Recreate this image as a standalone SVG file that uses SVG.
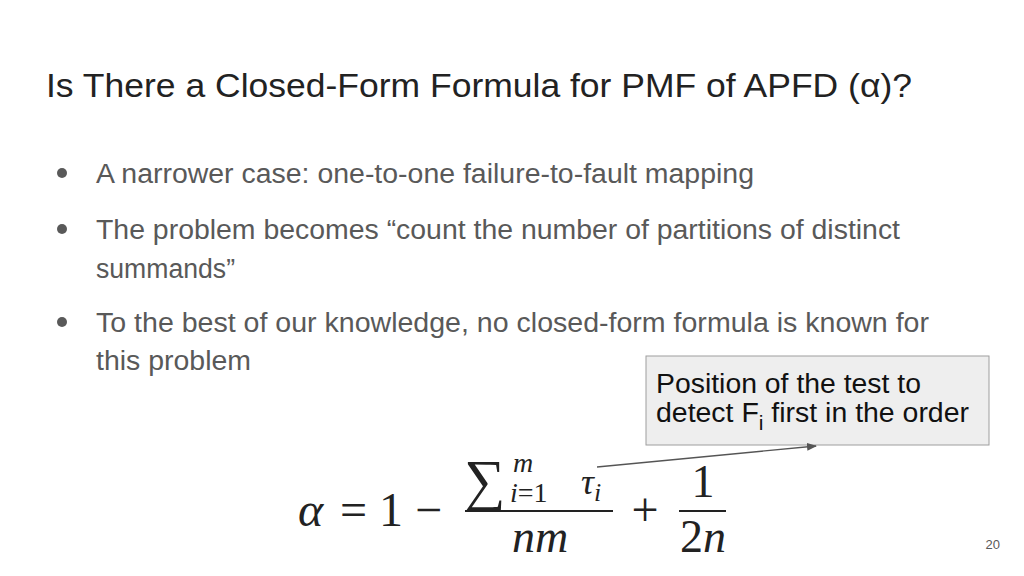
<svg xmlns="http://www.w3.org/2000/svg" width="1024" height="576" viewBox="0 0 1024 576">
<style>
.t{font-family:"Liberation Sans",Arial,sans-serif;fill:#595959;font-size:27px}
.m{font-family:"Liberation Serif","DejaVu Serif",serif;fill:#222}
.i{font-style:italic}
</style>
<defs><marker id="a" markerWidth="10" markerHeight="8" refX="9" refY="4" orient="auto" markerUnits="userSpaceOnUse"><path d="M0,0L10,4L0,8z" fill="#555"/></marker></defs>
<rect width="1024" height="576" fill="#fff"/>
<text x="46" y="97" textLength="866" lengthAdjust="spacingAndGlyphs" style="font-family:'Liberation Sans',Arial,sans-serif;font-size:33px;fill:#222">Is There a Closed-Form Formula for PMF of APFD (α)?</text>
<g id="bullets">
<circle cx="62" cy="173" r="5" fill="#595959"/><text class="t" x="96" y="183" textLength="658" lengthAdjust="spacingAndGlyphs">A narrower case: one-to-one failure-to-fault mapping</text>
<circle cx="62" cy="229" r="5" fill="#595959"/><text class="t" x="96" y="239" textLength="804" lengthAdjust="spacingAndGlyphs">The problem becomes “count the number of partitions of distinct</text>
<text class="t" x="96" y="278" textLength="139" lengthAdjust="spacingAndGlyphs">summands”</text>
<circle cx="62" cy="322" r="5" fill="#595959"/><text class="t" x="96" y="332" textLength="833" lengthAdjust="spacingAndGlyphs">To the best of our knowledge, no closed-form formula is known for</text>
<text class="t" x="96" y="370" textLength="155" lengthAdjust="spacingAndGlyphs">this problem</text>
</g>
<g id="callout">
<rect x="646" y="356" width="343" height="89" fill="#eeeeee" stroke="#9e9e9e" stroke-width="1"/>
<text x="656" y="393" textLength="265" lengthAdjust="spacingAndGlyphs" style="font-family:'Liberation Sans',Arial,sans-serif;font-size:27px;fill:#111">Position of the test to</text>
<text x="656" y="422" style="font-family:'Liberation Sans',Arial,sans-serif;font-size:27px;fill:#111" textLength="313" lengthAdjust="spacingAndGlyphs">detect F<tspan font-size="20" dy="8">i</tspan><tspan dy="-8"> first in the order</tspan></text>
</g>
<g id="connectors"><line x1="597" y1="467" x2="816" y2="446" stroke="#555" stroke-width="1.3" marker-end="url(#a)"/></g>
<g id="formula">
<text class="m i" x="298" y="526" font-size="48">α</text>
<text class="m" x="340" y="526" font-size="48">= 1 −</text>
<text class="m" x="464" y="500" font-size="58">∑</text>
<text class="m i" x="513" y="472" font-size="28">m</text>
<text class="m i" x="510" y="502" font-size="28">i<tspan font-style="normal">=1</tspan></text>
<text class="m i" x="581" y="494" font-size="36">τ<tspan font-size="26" dy="7">i</tspan></text>
<line x1="465" y1="511" x2="613" y2="511" stroke="#222" stroke-width="2"/>
<text class="m i" x="540" y="552" font-size="46" text-anchor="middle">nm</text>
<text class="m" x="645" y="526" font-size="48" text-anchor="middle">+</text>
<text class="m" x="703" y="497" font-size="46" text-anchor="middle">1</text>
<line x1="679" y1="511" x2="726" y2="511" stroke="#222" stroke-width="2"/>
<text class="m" x="703" y="552" font-size="46" text-anchor="middle">2<tspan font-style="italic">n</tspan></text>
</g>
<text x="1000" y="549" text-anchor="end" style="font-family:'Liberation Sans',Arial,sans-serif;font-size:13px;fill:#595959">20</text>
</svg>
